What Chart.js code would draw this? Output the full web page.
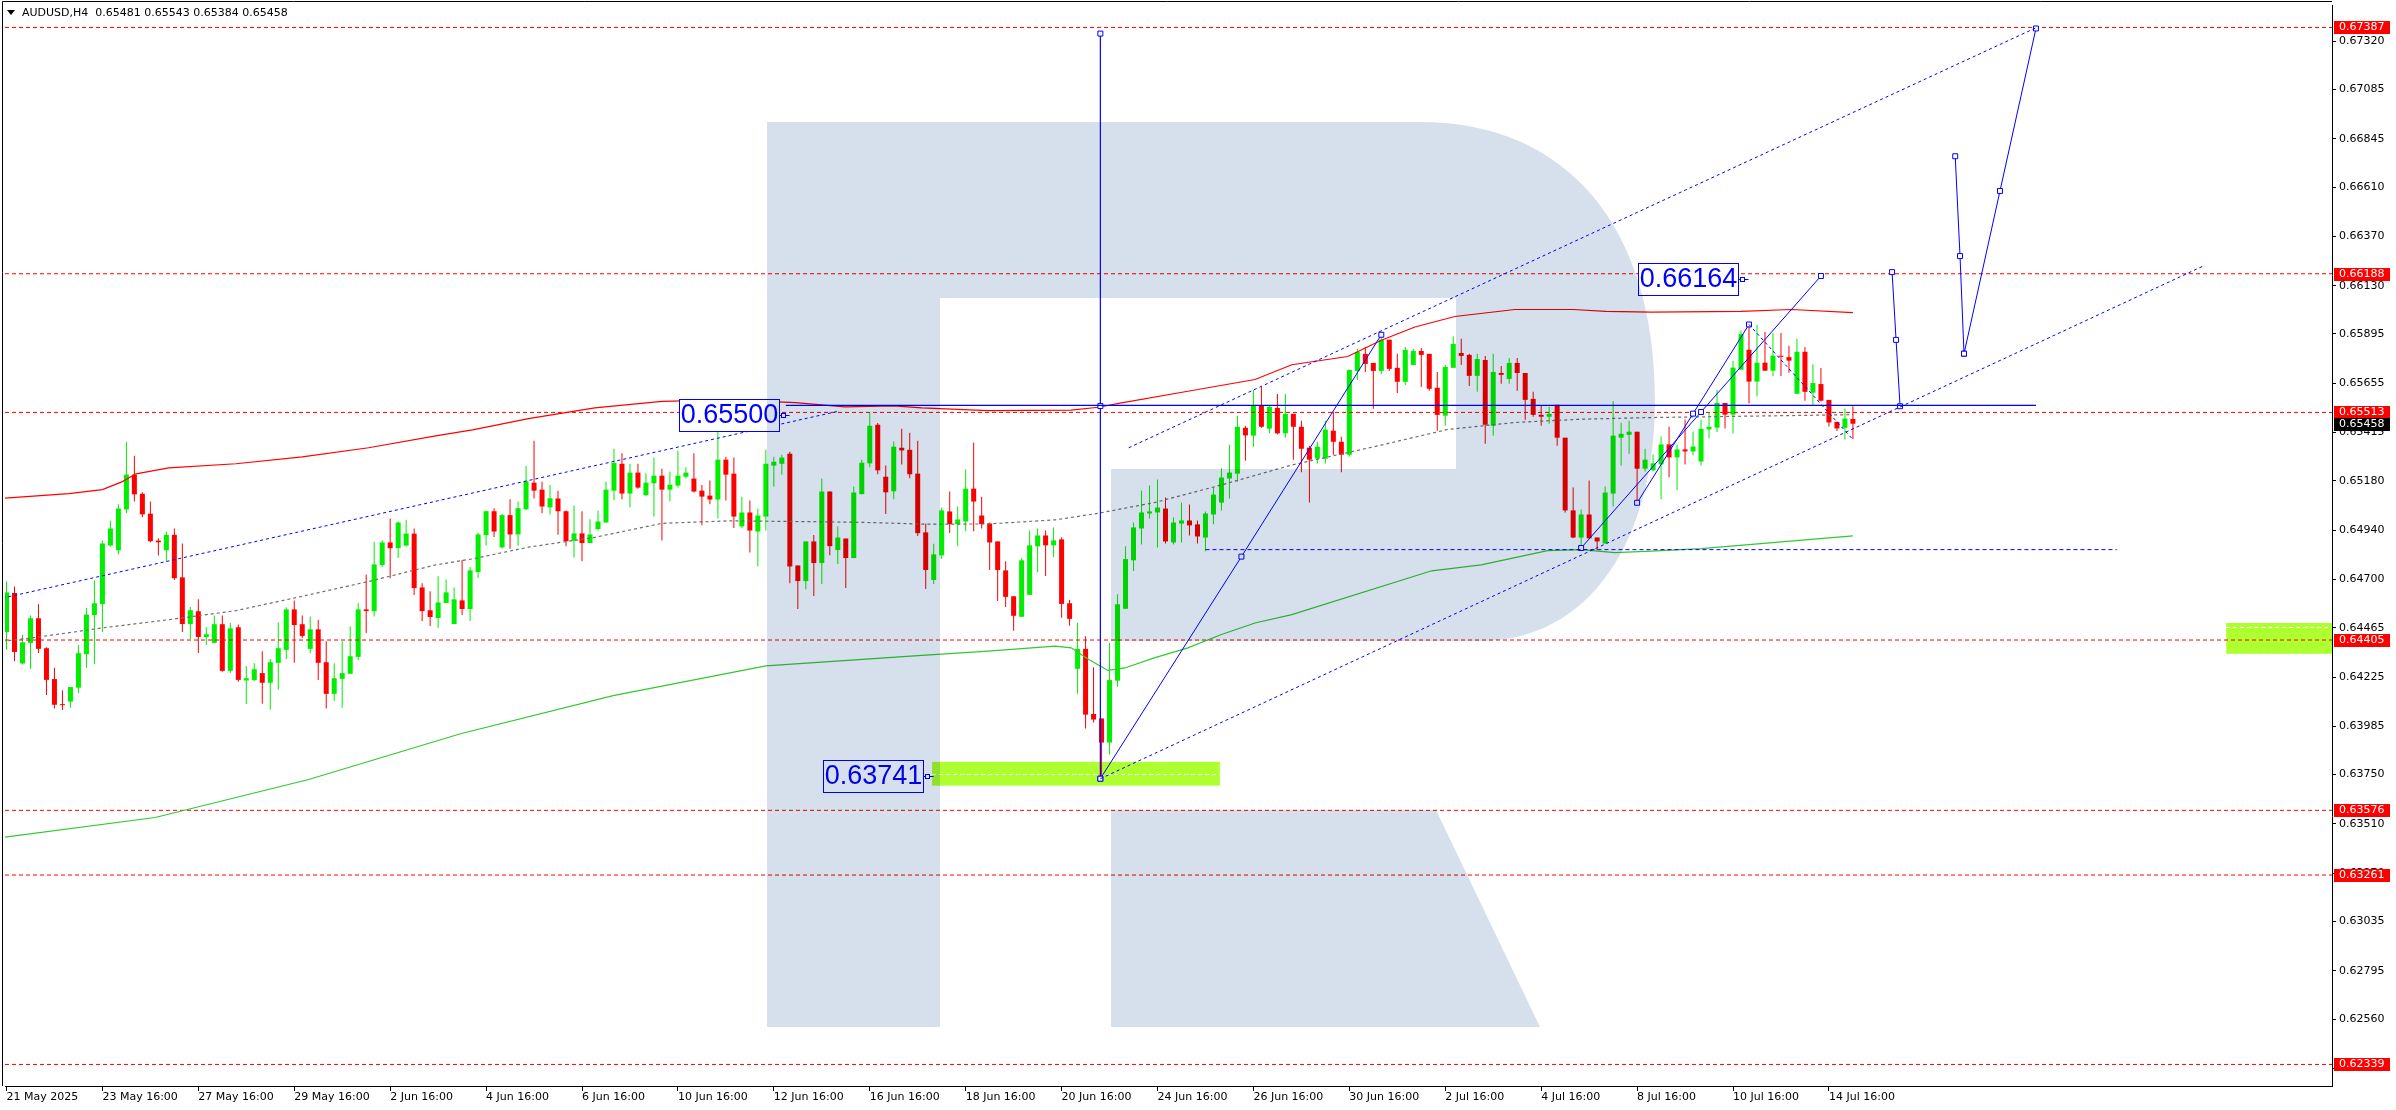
<!DOCTYPE html>
<html>
<head>
<meta charset="utf-8">
<title>AUDUSD, H4</title>
<script src="https://cdn.jsdelivr.net/npm/chart.js@4.4.1/dist/chart.umd.min.js"></script>
<style>
  html, body { margin: 0; padding: 0; background: #fff; }
  #wrap { width: 2396px; height: 1110px; }
</style>
</head>
<body>
<div id="wrap"><canvas id="chart"></canvas></div>
<script>
// H4 candles, prices in points (1 point = 0.00001)
const opens = [
  64444,64634,64291,64391,64511,64365,64215,64093,64105,64173,
  64336,64527,64580,64865,64842,65041,65210,65117,65020,64889,
  64842,64917,64710,64483,64545,64420,64391,64482,64255,64467,
  64208,64210,64244,64197,64294,64357,64554,64482,64362,64457,
  64297,64143,64216,64241,64323,64554,64546,64770,64880,64852,
  64865,64923,64661,64550,64512,64585,64483,64598,64556,64736,
  64916,65032,64856,65013,64919,65042,65171,65137,65051,65094,
  65032,64888,64924,64877,64945,64977,65132,65263,65118,65220,
  65110,65168,65205,65137,65157,65200,65191,65132,65108,65089,
  65283,65215,64958,65026,64933,65006,65254,65263,65312,64768,
  64692,64885,64780,65128,64843,64899,64804,65115,65265,65453,
  65200,65129,65341,65331,65215,64929,64697,64817,65031,64969,
  64982,65142,65011,64972,64885,64744,64618,64518,64625,64861,
  64914,64866,64895,64584,64265,64362,64045,64023,63906,64207,
  64557,64793,64948,65021,65026,65045,64880,64972,64987,64968,
  64904,65016,65074,65191,65215,65438,65400,65545,65434,65535,
  65411,65506,65443,65341,65288,65288,65424,65370,65307,65715,
  65798,65754,65715,65867,65730,65662,65744,65812,65798,65633,
  65497,65730,65802,65793,65691,65768,65448,65705,65676,65754,
  65705,65579,65501,65492,65550,65390,65036,64904,65016,64904,
  64875,65118,65390,65404,65419,65239,65231,65260,65357,65294,
  65333,65323,65274,65430,65439,65559,65502,65721,65818,65663,
  65755,65716,65789,65782,65604,65808,65609,65651,65574,65467,
  65438,65481
];
const highs = [
  64690,64666,64431,64525,64579,64370,64270,64161,64176,64380,
  64561,64695,64888,64986,65066,65370,65302,65124,65079,64901,
  64933,64948,64875,64566,64603,64467,64525,64525,64488,64480,
  64278,64292,64350,64313,64491,64564,64598,64525,64519,64504,
  64399,64292,64399,64472,64584,64724,64884,64889,64996,64982,
  64991,64948,64681,64642,64715,64700,64661,64794,64761,64927,
  65035,65047,65019,65090,65079,65252,65375,65176,65160,65132,
  65035,65060,65032,64993,65035,65176,65336,65314,65263,65263,
  65217,65293,65239,65225,65327,65246,65314,65160,65181,65454,
  65297,65293,65103,65084,65045,65331,65297,65307,65322,64768,
  64885,64916,65191,65128,64958,64899,65152,65283,65513,65462,
  65254,65372,65433,65414,65375,64972,64874,65050,65128,65055,
  65235,65366,65103,64977,64885,64788,64618,64804,64938,64948,
  64938,64953,64904,64600,64489,64424,64273,64023,64392,64628,
  64861,64977,65133,65157,65186,65099,65002,65074,65065,64987,
  65031,65149,65241,65356,65497,65448,65623,65637,65545,65603,
  65603,65506,65472,65351,65370,65472,65516,65395,65720,65822,
  65832,65754,65891,65867,65798,65832,65822,65827,65798,65710,
  65744,65882,65872,65798,65798,65788,65798,65739,65778,65778,
  65705,65613,65545,65540,65550,65390,65147,65040,65181,64904,
  65152,65569,65463,65472,65419,65336,65308,65396,65443,65357,
  65478,65420,65478,65515,65622,65559,65765,65910,65939,65939,
  65904,65899,65899,65837,65871,65831,65748,65729,65574,65467,
  65532,65543
];
const lows = [
  64359,64302,64286,64265,64342,64137,64072,64064,64075,64147,
  64270,64287,64444,64860,64821,65022,65079,65003,64881,64817,
  64787,64697,64444,64410,64342,64381,64391,64250,64245,64202,
  64093,64205,64095,64066,64163,64313,64294,64415,64341,64211,
  64072,64109,64075,64241,64308,64439,64520,64760,64706,64804,
  64860,64624,64498,64473,64464,64585,64483,64527,64498,64707,
  64865,64906,64851,64849,64864,65037,65094,65022,65016,64917,
  64862,64807,64788,64877,64938,64977,65085,65090,65050,65142,
  65105,65006,64890,65079,65147,65191,65123,64964,65066,64996,
  65084,64950,64950,64831,64763,64938,65152,65210,64681,64556,
  64652,64619,64678,64818,64775,64658,64804,65115,65246,65212,
  65018,65090,65260,65192,64911,64653,64678,64799,64926,64862,
  64934,64934,64948,64746,64595,64566,64450,64518,64625,64735,
  64717,64809,64513,64474,64144,63974,64003,63741,63848,64178,
  64557,64741,64870,64997,64856,64875,64870,64880,64914,64875,
  64837,64968,65036,65094,65176,65278,65346,65438,65411,65406,
  65390,65283,65222,65074,65264,65264,65307,65222,65298,65671,
  65710,65531,65700,65715,65608,65647,65744,65637,65618,65424,
  65448,65730,65744,65642,65613,65361,65400,65652,65652,65618,
  65477,65492,65448,65458,65351,65026,64900,64861,64900,64841,
  64875,65055,65254,65312,65079,65225,65227,65090,65197,65134,
  65260,65304,65255,65386,65418,65435,65410,65721,65556,65590,
  65716,65690,65690,65706,65604,65570,65548,65566,65444,65423,
  65381,65384
];
const closes = [
  64637,64347,64394,64511,64362,64211,64090,64088,64176,64341,
  64529,64584,64875,64948,65045,65210,65114,65017,64886,64881,
  64917,64706,64483,64550,64420,64433,64482,64255,64462,64211,
  64219,64263,64197,64297,64365,64554,64478,64425,64457,64294,
  64143,64219,64244,64326,64554,64546,64773,64880,64852,64977,
  64923,64658,64546,64517,64588,64637,64603,64556,64744,64919,
  65032,64933,65013,64919,65047,65178,65132,65055,65095,65032,
  64886,64924,64877,64919,64982,65137,65267,65118,65220,65147,
  65171,65205,65137,65161,65205,65220,65128,65103,65089,65283,
  65210,65006,65026,64938,65011,65263,65273,65293,64763,64692,
  64885,64780,65128,64862,64904,64804,65123,65268,65448,65231,
  65124,65346,65328,65212,64925,64746,64822,65036,64969,64992,
  65142,65079,64969,64880,64746,64615,64523,64793,64866,64914,
  64866,64890,64581,64508,64362,64042,64018,63906,64210,64579,
  64799,64953,65026,65031,65050,64885,64977,64987,64963,64909,
  65021,65113,65196,65220,65443,65401,65545,65443,65540,65411,
  65506,65443,65336,65283,65346,65429,65370,65307,65720,65807,
  65749,65715,65867,65725,65662,65817,65812,65793,65628,65501,
  65734,65846,65788,65691,65773,65453,65710,65696,65754,65705,
  65574,65501,65492,65506,65390,65036,64904,65016,64900,64885,
  65123,65400,65409,65419,65239,65283,65265,65357,65294,65333,
  65323,65347,65433,65443,65559,65502,65731,65894,65663,65755,
  65716,65789,65784,65765,65808,65613,65656,65570,65464,65435,
  65483,65458
];

// moving averages, read at a few bars
const maRedBars = [-0.5,7.8,12,14.5,16.2,20.3,28.7,37,45.3,53.7,58.3,65.3,73.6,82,90.3,98.7,104.9,111,114.5,122.8,133.2,136.6,139.5,147.8,156.2,160.8,167.8,172,176.2,181.2,188.7,196,200.1,205.8,217,223.3,231];
const maRedVals = [0.65095,0.65118,0.65137,0.65176,0.65214,0.65243,0.65263,0.65297,0.65341,0.65399,0.65428,0.65483,0.65535,0.65567,0.65574,0.65561,0.65540,0.65545,0.65535,0.65522,0.65524,0.65538,0.65559,0.65616,0.65673,0.65745,0.65785,0.65864,0.65929,0.65980,0.66014,0.66014,0.66005,0.66001,0.66005,0.66014,0.65999];
const maGreenBars = [-0.5,18.6,37.8,56.8,75.9,95,114.5,122.8,131.2,133.2,135.4,137.8,139.9,143.6,147.8,152,156.2,160.8,178.3,184.5,192.8,197,201.2,205.8,212,231];
const maGreenVals = [0.63444,0.63541,0.63726,0.63949,0.64134,0.64279,0.64330,0.64351,0.64375,0.64367,0.64310,0.64257,0.64269,0.64318,0.64367,0.64432,0.64488,0.64529,0.64742,0.64771,0.64840,0.64845,0.64830,0.64838,0.64850,0.64912];
const maGrayBars = [-0.5,3.7,12,20.3,28.7,37,45.3,53.7,58.3,65.3,73.6,82,90.3,98.7,107,115,122.8,131.2,136.6,143.6,152,160.8,172,180.3,188.7,197,205.8,231];
const maGrayVals = [0.64399,0.64418,0.64464,0.64504,0.64548,0.64618,0.64690,0.64771,0.64800,0.64857,0.64905,0.64973,0.64985,0.64982,0.64978,0.64969,0.64970,0.64990,0.65022,0.65074,0.65160,0.65257,0.65354,0.65430,0.65464,0.65480,0.65488,0.65502];

// drawn objects: [bar, price]
const verticalLine = [[136.85, 0.63730], [136.85, 0.65544], [136.85, 0.67357]];
const riseLine = [[136.85, 0.63730], [154.5, 0.64811], [172, 0.65891]];
const julyLineA = [[204, 0.65073], [211, 0.65507], [218, 0.65941]];
const julyLineB = [[197, 0.64853], [212, 0.65515], [227, 0.66177]];
const pullbackLine = [[218, 0.65941], [231, 0.65381]];
const forecast1 = [[236.9, 0.65543], [236.4, 0.65866], [235.9, 0.66196]];
const forecast2 = [[243.8, 0.66760], [244.4, 0.66274], [244.9, 0.65799]];
const forecast3 = [[244.9, 0.65799], [249.4, 0.66591], [253.9, 0.67382]];
const channelLow = [[136.85, 0.63730], [274.8, 0.66225]];
const channelHigh = [[140.4, 0.65341], [254, 0.67387]];
const channelOld = [[-0.5, 0.64609], [104.1, 0.65519]];
const supportLine = [[150, 0.64845], [264, 0.64845]];
const resistLine = [[97.5, 0.65547], [253.9, 0.65547]];

const levels = [0.67387, 0.66188, 0.65513, 0.64405, 0.63576, 0.63261, 0.62339];
const lastPrice = 0.65458;

const priceLabelTexts = ["0.65500", "0.66164", "0.63741"];
const priceLabelBars = [96.6, 216.6, 114.6];
const priceLabelPrices = [0.65500, 0.66164, 0.63741];

const zoneStartBars = [115.8, 277.7];
const zoneEndBars = [151.8, 291];
const zoneLows = [0.63696, 0.64338];
const zoneHighs = [0.63812, 0.64488];
const zoneMids = [0.63752, 0.64467];

const xTickBars = [0,12,24,36,48,60,72,84,96,108,120,132,144,156,168,180,192,204,216,228];
const xTickLabels = ["21 May 2025","23 May 16:00","27 May 16:00","29 May 16:00","2 Jun 16:00","4 Jun 16:00","6 Jun 16:00","10 Jun 16:00","12 Jun 16:00","16 Jun 16:00","18 Jun 16:00","20 Jun 16:00","24 Jun 16:00","26 Jun 16:00","30 Jun 16:00","2 Jul 16:00","4 Jul 16:00","8 Jul 16:00","10 Jul 16:00","14 Jul 16:00"];
const yTickValues = [0.67320,0.67085,0.66845,0.66610,0.66370,0.66130,0.65895,0.65655,0.65415,0.65180,0.64940,0.64700,0.64465,0.64225,0.63985,0.63750,0.63510,0.63270,0.63035,0.62795,0.62560,0.62320];

const headerText = "AUDUSD,H4  0.65481 0.65543 0.65384 0.65458";

const X_MIN = -0.1875, X_MAX = 290.9375;
const Y_MIN = 0.622341, Y_MAX = 0.674962;

const BLUE = "#0000ff";
const upColor = "#00ee00";
const downColor = "#ff0000";

Chart.defaults.font.family = "'DejaVu Sans', sans-serif";
Chart.defaults.font.size = 11;
Chart.defaults.color = "#000";

const pt = v => v / 100000;
const candleColor = ctx => closes[ctx.dataIndex] >= opens[ctx.dataIndex] ? upColor : downColor;

function lineSet(points, color, width, dash, handles, order) {
  return {
    type: "line",
    data: points.map(p => ({ x: p[0], y: p[1] })),
    borderColor: color,
    borderWidth: width,
    borderDash: dash || [],
    pointRadius: handles || 0,
    pointStyle: "rect",
    pointBackgroundColor: "#fff",
    pointBorderColor: color,
    pointBorderWidth: 1,
    tension: 0,
    fill: false,
    order: order || 1,
  };
}

function maSet(bars, vals, color, width, dash) {
  return lineSet(bars.map((b, i) => [b, vals[i]]), color, width, dash, 0, 3);
}

const datasets = [
  {
    type: "bar",
    data: opens.map((_, i) => ({ x: i, y: [pt(lows[i]), pt(highs[i])] })),
    backgroundColor: candleColor,
    barThickness: 1,
    grouped: false,
    inflateAmount: 0,
    borderWidth: 0,
    order: 6,
  },
  {
    type: "bar",
    data: opens.map((o, i) => ({ x: i, y: [pt(o), pt(closes[i])] })),
    backgroundColor: candleColor,
    barThickness: 5,
    minBarLength: 1,
    grouped: false,
    inflateAmount: 0,
    borderWidth: 0,
    order: 5,
  },
  maSet(maRedBars, maRedVals, "#ff0000", 1.2),
  maSet(maGreenBars, maGreenVals, "#32c832", 1.2),
  maSet(maGrayBars, maGrayVals, "#6e6e6e", 1.2, [3, 3]),
];

levels.forEach(v => {
  datasets.push(lineSet([[X_MIN, v], [X_MAX, v]], "#ff0000", 1, [4, 3], 0, 4));
});

datasets.push(lineSet(channelOld, BLUE, 1, [3, 3]));
datasets.push(lineSet(channelLow, BLUE, 1, [3, 3]));
datasets.push(lineSet(channelHigh, BLUE, 1, [3, 3]));
datasets.push(lineSet(supportLine, BLUE, 1, [4, 3]));
datasets.push(lineSet(resistLine, BLUE, 1.2));
datasets.push(lineSet(pullbackLine, BLUE, 1, [3, 3]));
datasets.push(lineSet(verticalLine, BLUE, 1.2, null, 3.5));
datasets.push(lineSet(riseLine, BLUE, 1, null, 3.5));
datasets.push(lineSet(julyLineA, BLUE, 1, null, 3.5));
datasets.push(lineSet(julyLineB, BLUE, 1, null, 3.5));
datasets.push(lineSet(forecast1, BLUE, 1, null, 3.5));
datasets.push(lineSet(forecast2, BLUE, 1, null, 3.5));
datasets.push(lineSet(forecast3, BLUE, 1, null, 3.5));

// extra drawing: background, zones, labels, logo, price tags, header
const extras = {
  id: "extras",
  beforeDraw(chart) {
    const ctx = chart.ctx;
    ctx.save();
    ctx.fillStyle = "#fff";
    ctx.fillRect(0, 0, chart.width, chart.height);
    ctx.restore();
  },
  beforeDatasetsDraw(chart) {
    const { ctx, scales: { x, y }, chartArea: area } = chart;
    ctx.save();
    zoneStartBars.forEach((b, k) => {
      const x0 = x.getPixelForValue(b);
      const x1 = Math.min(x.getPixelForValue(zoneEndBars[k]), area.right);
      const y0 = y.getPixelForValue(zoneHighs[k]);
      const y1 = y.getPixelForValue(zoneLows[k]);
      ctx.fillStyle = "#adff2f";
      ctx.fillRect(x0, y0, x1 - x0, y1 - y0);
      const ym = Math.round(y.getPixelForValue(zoneMids[k])) + 0.5;
      ctx.strokeStyle = "#fff";
      ctx.lineWidth = 1;
      ctx.setLineDash([4, 3]);
      ctx.beginPath();
      ctx.moveTo(x0, ym);
      ctx.lineTo(x1, ym);
      ctx.stroke();
    });
    ctx.restore();
  },
  afterDatasetsDraw(chart) {
    const { ctx, scales: { x, y }, chartArea: area } = chart;
    ctx.save();
    // price labels
    priceLabelTexts.forEach((t, k) => {
      const xr = Math.round(x.getPixelForValue(priceLabelBars[k])) + 0.5;
      const yc = Math.round(y.getPixelForValue(priceLabelPrices[k]));
      ctx.fillStyle = "#fff";
      ctx.fillRect(xr - 100, yc - 16, 100, 32);
      ctx.strokeStyle = BLUE;
      ctx.lineWidth = 1;
      ctx.setLineDash([]);
      ctx.strokeRect(xr - 100, yc - 15.5, 100, 32);
      ctx.fillStyle = BLUE;
      ctx.font = "27px 'Liberation Sans'";
      ctx.textAlign = "center";
      ctx.textBaseline = "middle";
      ctx.fillText(t, xr - 50, yc + 1);
      ctx.beginPath();
      ctx.moveTo(xr, yc + 0.5);
      ctx.lineTo(xr + 10, yc + 0.5);
      ctx.stroke();
      ctx.fillStyle = "#fff";
      ctx.fillRect(xr + 2, yc - 1.5, 4, 4);
      ctx.strokeRect(xr + 2, yc - 1.5, 4, 4);
    });

    // logo, tinted over the chart
    ctx.globalCompositeOperation = "multiply";
    ctx.fillStyle = "#d6e0ec";
    ctx.beginPath();
    ctx.moveTo(767, 122);
    ctx.lineTo(1420, 122);
    ctx.bezierCurveTo(1570, 122, 1655, 230, 1655, 400);
    ctx.bezierCurveTo(1655, 540, 1590, 641, 1480, 641);
    ctx.lineTo(1111, 641);
    ctx.lineTo(1111, 469);
    ctx.lineTo(1456, 469);
    ctx.lineTo(1456, 298);
    ctx.lineTo(940, 298);
    ctx.lineTo(940, 1027);
    ctx.lineTo(767, 1027);
    ctx.closePath();
    ctx.moveTo(1111, 810);
    ctx.lineTo(1436, 810);
    ctx.lineTo(1540, 1027);
    ctx.lineTo(1111, 1027);
    ctx.closePath();
    ctx.fill();
    ctx.globalCompositeOperation = "source-over";

    // frame (left and top)
    ctx.strokeStyle = "#000";
    ctx.lineWidth = 1;
    ctx.beginPath();
    ctx.moveTo(2.5, area.bottom);
    ctx.lineTo(2.5, 1.5);
    ctx.lineTo(area.right, 1.5);
    ctx.stroke();
    ctx.restore();
  },
  afterDraw(chart) {
    const { ctx, scales: { y }, chartArea: area } = chart;
    ctx.save();
    ctx.font = "11px 'DejaVu Sans'";
    ctx.textAlign = "left";
    ctx.textBaseline = "middle";
    const tag = (v, bg) => {
      const yc = Math.round(y.getPixelForValue(v));
      ctx.fillStyle = bg;
      ctx.fillRect(area.right + 2, yc - 6, 56, 13);
      ctx.fillStyle = "#fff";
      ctx.fillText(v.toFixed(5), area.right + 7, yc + 0.5);
    };
    levels.forEach(v => tag(v, "#ff0000"));
    tag(lastPrice, "#000");

    // header
    ctx.fillStyle = "#000";
    ctx.beginPath();
    ctx.moveTo(7, 10);
    ctx.lineTo(15, 10);
    ctx.lineTo(11, 15);
    ctx.closePath();
    ctx.fill();
    ctx.fillText(headerText, 22, 13);
    ctx.restore();
  },
};

new Chart(document.getElementById("chart"), {
  type: "bar",
  data: { datasets },
  options: {
    responsive: true,
    maintainAspectRatio: false,
    devicePixelRatio: 1,
    animation: false,
    events: [],
    layout: { padding: { left: 3, top: 2, right: 0, bottom: 0 } },
    plugins: {
      legend: { display: false },
      tooltip: { enabled: false },
    },
    scales: {
      x: {
        type: "linear",
        min: X_MIN,
        max: X_MAX,
        offset: false,
        afterBuildTicks: s => { s.ticks = xTickBars.map(v => ({ value: v })); },
        afterFit: s => { s.height = 24; s.paddingLeft = 0; s.paddingRight = 0; },
        grid: { drawOnChartArea: false, drawTicks: true, tickLength: 5, color: "#000", offset: false },
        border: { display: true, color: "#000", width: 1 },
        ticks: {
          align: "start",
          maxRotation: 0,
          minRotation: 0,
          autoSkip: false,
          padding: 0,
          color: "#000",
          font: { size: 11 },
          callback: (v, i) => xTickLabels[i],
        },
      },
      y: {
        type: "linear",
        position: "right",
        min: Y_MIN,
        max: Y_MAX,
        afterBuildTicks: s => { s.ticks = yTickValues.map(v => ({ value: v })); },
        afterFit: s => { s.width = 64; s.paddingTop = 0; s.paddingBottom = 0; },
        grid: { drawOnChartArea: false, drawTicks: true, tickLength: 4, color: "#000" },
        border: { display: true, color: "#000", width: 1 },
        ticks: {
          autoSkip: false,
          padding: 3,
          color: "#000",
          font: { size: 11 },
          callback: v => v.toFixed(5),
        },
      },
    },
  },
  plugins: [extras],
});
</script>
</body>
</html>
